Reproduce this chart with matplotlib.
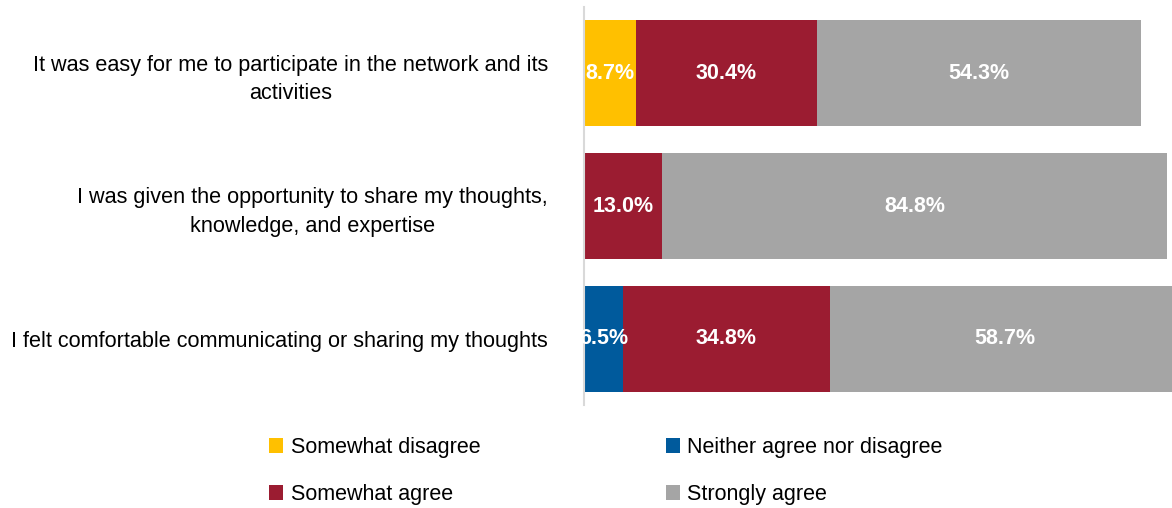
import matplotlib
matplotlib.use("Agg")
import matplotlib.pyplot as plt
from matplotlib.patches import Patch

plt.rcParams["font.family"] = ["Liberation Sans", "DejaVu Sans"]

statements = [
    "It was easy for me to participate in the network and its\nactivities",
    "I was given the opportunity to share my thoughts,\nknowledge, and expertise",
    "I felt comfortable communicating or sharing my thoughts",
]
responses = ["Somewhat disagree", "Neither agree nor disagree", "Somewhat agree", "Strongly agree"]
somewhat_disagree = [8.7, 0.0, 0.0]
neither = [0.0, 0.0, 6.5]
somewhat_agree = [30.4, 13.0, 34.8]
strongly_agree = [54.3, 84.8, 58.7]
colors = ["#FFC000", "#005A9C", "#9B1C31", "#A5A5A5"]

series = [somewhat_disagree, neither, somewhat_agree, strongly_agree]

fig = plt.figure(figsize=(11.72, 5.08), dpi=100)
ax = fig.add_axes([584 / 1172, 1 - 405 / 508, 1 - 584 / 1172, (405 - 7) / 508])

ypos = list(range(len(statements)))
left = [0.0] * len(statements)
for vals, col in zip(series, colors):
    ax.barh(ypos, vals, left=left, height=0.8, color=col, edgecolor="none")
    for i, v in enumerate(vals):
        if v > 0:
            ax.text(left[i] + v / 2, i, f"{v:.1f}%", ha="center", va="center",
                    color="white", fontsize=15.5, fontweight="bold")
    left = [l + v for l, v in zip(left, vals)]

ax.set_xlim(0, 98.6)
ax.set_ylim(2.5, -0.5)
ax.set_yticks(ypos)
ax.set_yticklabels(statements, fontsize=15.6, multialignment="center", linespacing=1.45)
ax.tick_params(axis="y", length=0, pad=26)
ax.set_xticks([])
for s in ["top", "right", "bottom"]:
    ax.spines[s].set_visible(False)
ax.spines["left"].set_color("#D9D9D9")
ax.spines["left"].set_linewidth(1.5)

order = [0, 2, 1, 3]
handles = [Patch(facecolor=colors[k], edgecolor="none") for k in order]
labels = [responses[k] for k in order]
fig.legend(handles, labels, ncol=2, loc="center", bbox_to_anchor=(0.517, 1 - 471 / 508),
           frameon=False, fontsize=15.5, handlelength=0.65, handleheight=0.65,
           handletextpad=0.35, columnspacing=8.6, labelspacing=1.2)

fig.savefig("out.png", dpi=100)
